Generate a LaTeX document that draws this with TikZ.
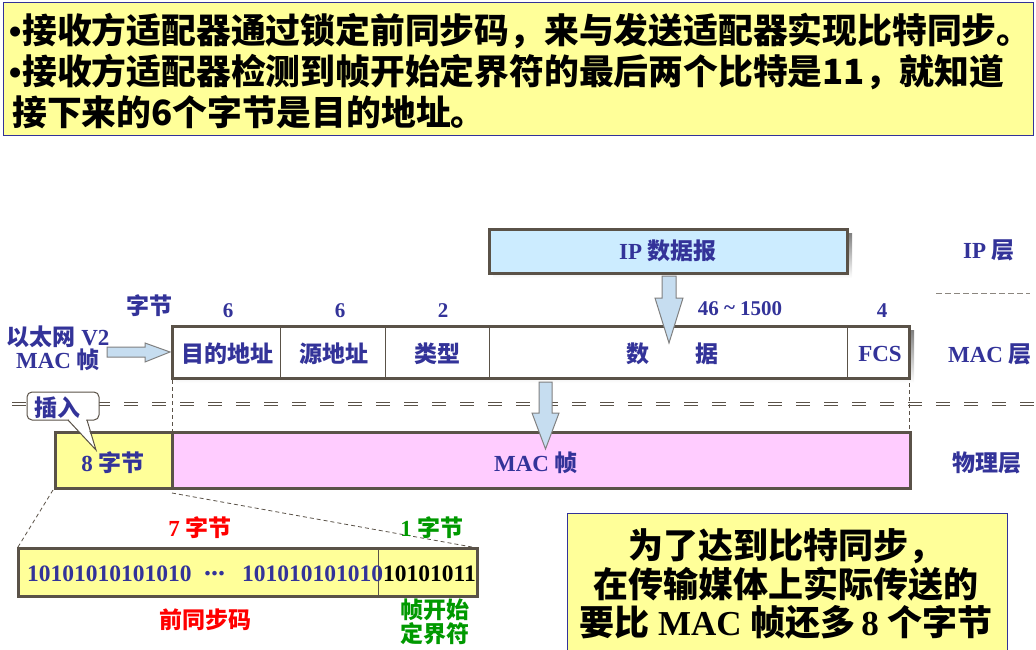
\documentclass[tikz,border=0pt]{standalone}
\usepackage{fontspec}
\setmainfont{Liberation Serif}
\newfontfamily\cjk{Noto Sans CJK SC}
\newfontfamily\bul{Liberation Sans}
\newcommand\zh[1]{{\cjk\bfseries #1}}
\definecolor{ink}{HTML}{333399}
\definecolor{frame}{HTML}{5A5248}
\definecolor{shade}{HTML}{D4CCBC}
\definecolor{note}{HTML}{FFFF99}
\definecolor{ipblue}{HTML}{CCECFF}
\definecolor{pinkfill}{HTML}{FFCCFF}
\definecolor{arrowfill}{HTML}{C6DDF0}
\definecolor{arrowline}{HTML}{808080}
\definecolor{redtxt}{HTML}{FF0000}
\definecolor{greentxt}{HTML}{009900}
\tikzset{
  lbl/.style={text=ink, inner sep=0pt, font=\bfseries\fontsize{23}{26}\selectfont},
  num/.style={text=ink, inner sep=0pt, font=\bfseries\fontsize{21}{24}\selectfont},
  thickbox/.style={draw=frame, line width=3pt, inner sep=0pt},
  blockarrow/.style={fill=arrowfill, draw=arrowline, line width=1pt, line join=miter},
  dbl/.style={draw=frame, line width=1.3pt, dash pattern=on 14pt off 14pt},
  guide/.style={draw=frame, line width=0.8pt, dash pattern=on 4pt off 3pt},
  toptext/.style={anchor=west, inner sep=0pt, font=\cjk\bfseries\fontsize{34.8}{40}\selectfont},
  bits/.style={text=ink, anchor=west, inner sep=0pt, font=\bfseries\fontsize{23.5}{26}\selectfont},
}
\begin{document}
\begin{tikzpicture}[x=1pt,y=-1pt]
\useasboundingbox (0,0) rectangle (1036,650);
% top note
\node[draw=ink, fill=note, line width=1pt, minimum width=1030pt, minimum height=133pt, anchor=north west, inner sep=0pt] (topbox) at (3,2) {};
\node[toptext] (t1) at (9,31) {{\bul•}\hspace{1pt}接收方适配器通过锁定前同步码，来与发送适配器实现比特同步。};
\node[toptext] (t2) at (9,72) {{\bul•}\hspace{1pt}接收方适配器检测到帧开始定界符的最后两个比特是11，就知道};
\node[toptext] (t3) at (12,112) {接下来的6个字节是目的地址。};

% IP datagram
\fill[shade] (493,233) rectangle (852,278);
\node[thickbox, fill=ipblue, minimum width=358pt, minimum height=44pt] (ip) at (668,251) {};
\node[lbl] (iptxt) at (668,251) {IP \zh{数据报}};
\node[lbl] (iplayer) at (989,250) {IP \zh{层}};
\draw[draw=frame!70, line width=1pt, dash pattern=on 6pt off 3pt] (936,293) -- (1030,293);

% byte counts
\node[lbl] (zj) at (149,306) {\zh{字节}};
\node[num] (n1) at (228,311) {6};
\node[num] (n2) at (340,311) {6};
\node[num] (n3) at (443,311) {2};
\node[num] (n4) at (740,309) {46 \raisebox{1pt}{\textasciitilde} 1500};
\node[num] (n5) at (882,311) {4};

% MAC frame
\fill[shade] (176,330) rectangle (914,383);
\node[thickbox, fill=white, minimum width=737pt, minimum height=52pt] (mac) at (540.5,352) {};
\foreach \xx in {280,385,489,847} \draw[frame, line width=1pt] (\xx,326) -- (\xx,378);
\node[lbl] (f1) at (227,354) {\zh{目的地址}};
\node[lbl] (f2) at (334,354) {\zh{源地址}};
\node[lbl] (f3) at (437,354) {\zh{类型}};
\node[lbl] (f4a) at (638,354) {\zh{数}};
\node[lbl] (f4b) at (707,354) {\zh{据}};
\node[lbl] (f5) at (880,354) {FCS};
\node[lbl] (maclayer) at (990,354) {MAC \zh{层}};
\node[lbl, align=center, font=\bfseries\fontsize{23}{23}\selectfont] (eth) at (58,348) {\zh{以太网} V2\\MAC \zh{帧}};
\draw[blockarrow] (107,347) -- (145,347) -- (145,343) -- (170,352) -- (145,362) -- (145,357) -- (107,357) -- cycle;

% down arrow IP -> MAC
\draw[blockarrow] (662,276) -- (676,276) -- (676,298) -- (683,298) -- (669,343) -- (655,298) -- (662,298) -- cycle;

% layer separator double dashed
\draw[dbl] (12,402.5) -- (1036,402.5);
\draw[dbl] (12,405.8) -- (1036,405.8);

% guides
\draw[guide] (172,380) -- (172,432);
\draw[guide] (909,383) -- (909,432);

% physical layer
\node[thickbox, fill=pinkfill, minimum width=738pt, minimum height=56pt] (phy) at (541,460) {};
\node[thickbox, fill=note, minimum width=117pt, minimum height=56pt] (pre) at (113.5,460) {};
\node[lbl] (pretxt) at (113,463) {8 \zh{字节}};
\node[lbl] (phytxt) at (536,463) {MAC \zh{帧}};
\node[lbl] (phylayer) at (987,463) {\zh{物理层}};

% down arrow MAC -> phy
\draw[blockarrow] (539,382) -- (552,382) -- (552,413) -- (559,413) -- (545.5,449) -- (532,413) -- (539,413) -- cycle;

% callout
\draw[draw=frame, fill=white, line width=1pt, rounded corners=5pt] (27,392) rectangle (99,420);
\fill[white] (69,418.5) -- (69,421) -- (95,448) -- (86,421) -- (86,418.5) -- cycle;
\draw[draw=frame, line width=1pt, line join=miter] (68,420) -- (96,450) -- (87,420);
\node[lbl] (insert) at (57,408) {\zh{插入}};

% zoom guides
\draw[guide] (53,490) -- (18,547);
\draw[guide] (172,493) -- (472,547);

% preamble bits
\node[lbl, text=redtxt] (seven) at (200,528) {7 \zh{字节}};
\node[lbl, text=greentxt] (one) at (432,528) {1 \zh{字节}};
\node[thickbox, fill=note, minimum width=459pt, minimum height=48pt] (bitsbox) at (247.5,572) {};
\draw[frame, line width=1pt] (378,548) -- (378,598);
\node[bits] (b1) at (27,574) {10101010101010};
\node[bits, font=\bfseries\fontsize{28}{28}\selectfont] (b2) at (204,574) {...};
\node[bits] (b3) at (242,574) {101010101010};
\node[bits, text=black] (b4) at (383,574) {10101011};
\node[lbl, text=redtxt] (pream) at (205,620) {\zh{前同步码}};
\node[lbl, text=greentxt, align=center, font=\bfseries\fontsize{23}{24}\selectfont] (sfd) at (435,622) {\zh{帧开始}\\\zh{定界符}};

% bottom note
\node[draw=ink, fill=note, line width=1pt, minimum width=440pt, minimum height=150pt, anchor=north west, inner sep=0pt] (note2) at (567,513) {};
\node[align=center, inner sep=0pt, font=\bfseries\fontsize{35}{38.5}\selectfont] (note2txt) at (786,584) {\zh{为了达到比特同步，}\\\zh{在传输媒体上实际传送的}\\\zh{要比} MAC \zh{帧还多}\,8 \zh{个字节}};
\end{tikzpicture}
\end{document}
